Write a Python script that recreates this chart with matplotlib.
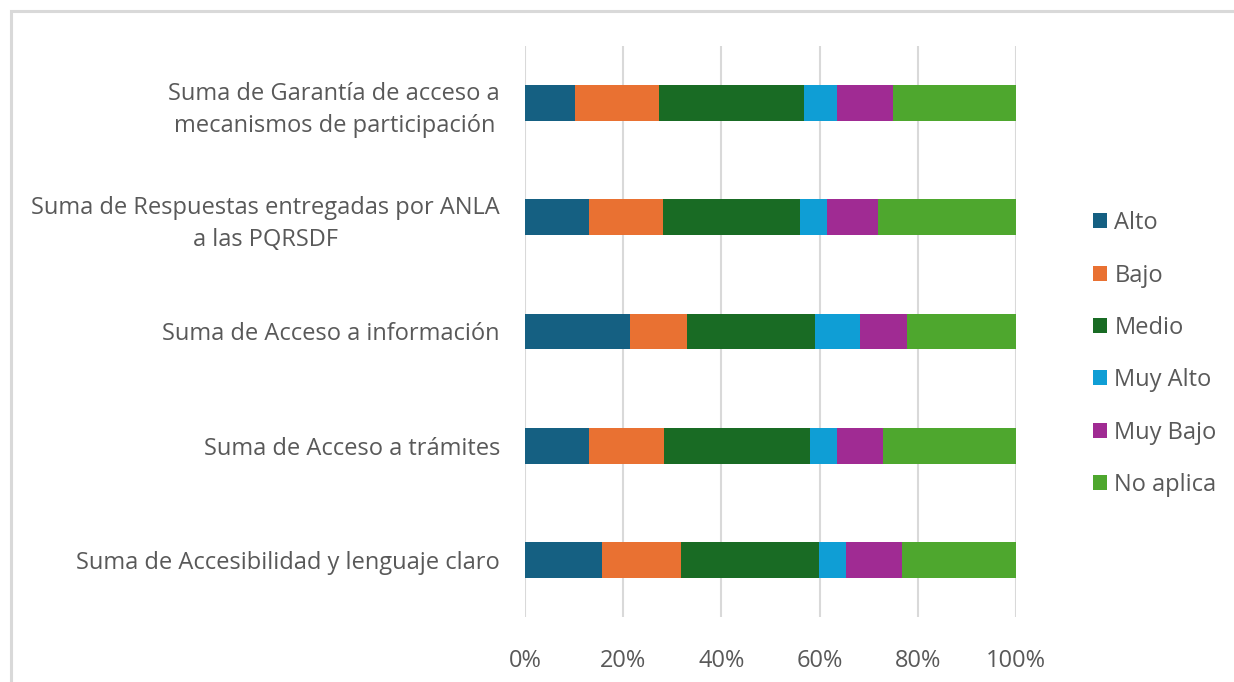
import matplotlib
matplotlib.use("Agg")
import matplotlib.pyplot as plt
from matplotlib.patches import Rectangle
import numpy as np

plt.rcParams['font.family'] = ['Open Sans', 'DejaVu Sans']

categories = [
    "Suma de Garantía de acceso a\nmecanismos de participación",
    "Suma de Respuestas entregadas por ANLA\na las PQRSDF",
    "Suma de Acceso a información",
    "Suma de Acceso a trámites",
    "Suma de Accesibilidad y lenguaje claro",
]
series_names = ["Alto", "Bajo", "Medio", "Muy Alto", "Muy Bajo", "No aplica"]

alto = [10.1, 13.1, 21.4, 13.1, 15.7]
bajo = [17.2, 15.1, 11.5, 15.3, 16.1]
medio = [29.5, 27.9, 26.2, 29.6, 28.1]
muy_alto = [6.7, 5.5, 9.1, 5.5, 5.5]
muy_bajo = [11.5, 10.3, 9.6, 9.5, 11.3]
no_aplica = [25.0, 28.1, 22.2, 27.0, 23.3]

colors = ["#156082", "#E97132", "#196B24", "#0F9ED5", "#A02B93", "#4EA72E"]
text_color = "#595959"
grid_color = "#D9D9D9"
fs = 17

values = np.array([alto, bajo, medio, muy_alto, muy_bajo, no_aplica], dtype=float)
shares = values / values.sum(axis=0) * 100

fig = plt.figure(figsize=(12.34, 6.82), dpi=100)
ax = fig.add_axes([525 / 1234, 1 - 617 / 682, (1016 - 525) / 1234, (617 - 46) / 682])

y = np.arange(len(categories))
left = np.zeros(len(categories))
handles = []
for name, row, col in zip(series_names, shares, colors):
    h = ax.barh(y, row, left=left, height=0.315, color=col, label=name, zorder=3)
    handles.append(h)
    left += row

ax.set_xlim(0, 100)
ax.set_ylim(len(categories) - 0.5, -0.5)
ax.set_xticks(np.arange(0, 101, 20))
ax.set_xticklabels([f"{v}%" for v in range(0, 101, 20)])
ax.set_yticks(y)
ax.set_yticklabels(categories)
for lbl in ax.get_yticklabels():
    lbl.set_multialignment("center")
    lbl.set_linespacing(1.45)
ax.tick_params(axis="both", length=0, labelsize=fs, colors=text_color)
ax.tick_params(axis="y", pad=18)
ax.tick_params(axis="x", pad=23)
ax.grid(axis="x", color=grid_color, linewidth=1.5, zorder=0)
for s in ax.spines.values():
    s.set_visible(False)

leg = fig.legend(handles=handles, labels=series_names, loc="upper left",
                 bbox_to_anchor=(1072 / 1234, 1 - 190 / 682), frameon=False,
                 fontsize=fs, labelcolor=text_color, handlelength=0.6,
                 handleheight=0.6, handletextpad=0.3, labelspacing=1.2)

# chart frame
fig.patches.append(Rectangle((11 / 1234, -0.1), 1.2, 1.1 - 11 / 682,
                             transform=fig.transFigure, fill=False,
                             edgecolor=grid_color, linewidth=2.2))

fig.savefig("out.png", dpi=100)
